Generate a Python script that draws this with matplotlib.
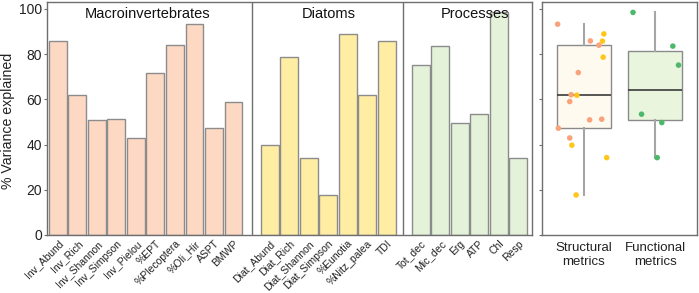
import matplotlib
matplotlib.use("Agg")
import matplotlib.pyplot as plt
import numpy as np

plt.rcParams["font.family"] = ["Liberation Sans", "DejaVu Sans"]

# ── data ──────────────────────────────────────────────────────────
macro_names = ["Inv_Abund", "Inv_Rich", "Inv_Shannon", "Inv_Simpson", "Inv_Pielou",
               "%EPT", "%Plecoptera", "%Oli_Hir", "ASPT", "BMWP"]
macro_vals = [85.8, 62.0, 50.9, 51.2, 42.9, 71.8, 83.9, 93.2, 47.2, 59.0]

diat_names = ["Diat_Abund", "Diat_Rich", "Diat_Shannon", "Diat_Simpson",
              "%Eunotia", "%Nitz_palea", "TDI"]
diat_vals = [39.7, 78.6, 34.2, 17.7, 88.9, 61.8, 85.7]

proc_names = ["Tot_dec", "Mic_dec", "Erg", "ATP", "Chl", "Resp"]
proc_vals = [75.1, 83.5, 49.7, 53.4, 98.4, 34.2]

group_titles = ["Macroinvertebrates", "Diatoms", "Processes"]
box_labels = ["Structural\nmetrics", "Functional\nmetrics"]
yticks = [0, 20, 40, 60, 80, 100]

# jitter used for the points in the right panel
macro_jit = [0.09, -0.18, 0.08, 0.25, -0.20, -0.08, 0.21, -0.37, -0.36, -0.20]
diat_jit = [-0.17, 0.27, 0.32, -0.11, 0.28, -0.10, 0.26]
proc_jit = [0.33, 0.25, 0.095, -0.19, -0.31, 0.03]

# ── style ─────────────────────────────────────────────────────────
C_MACRO, C_DIAT, C_PROC = "#FDD9C3", "#FFEDA3", "#E3F2D8"
P_MACRO, P_DIAT, P_PROC = "#F9A27B", "#FFC61A", "#4DB86A"
EDGE = "#8C8C8C"
FRAME = "#6E6E6E"

fig = plt.figure(figsize=(6.99, 2.93), dpi=100)
ax = fig.add_axes([47 / 699, 58 / 293, 485 / 699, 233 / 293])
ax2 = fig.add_axes([542 / 699, 58 / 293, 155 / 699, 233 / 293])

starts = [0.0, 10.85, 18.6]
groups = [(macro_names, macro_vals, C_MACRO),
          (diat_names, diat_vals, C_DIAT),
          (proc_names, proc_vals, C_PROC)]
all_x, all_lab = [], []
for s, (names, vals, col) in zip(starts, groups):
    xs = s + np.arange(len(vals))
    ax.bar(xs, vals, width=0.92, color=col, edgecolor=EDGE, linewidth=1.0)
    all_x.extend(xs)
    all_lab.extend(names)

for sep in [9.95, 17.7]:
    ax.axvline(sep, color=FRAME, lw=1.0)

title_x = [4.6, 13.9, 21.4]
for tx, t in zip(title_x, group_titles):
    ax.text(tx, 101, t, ha="center", va="top", fontsize=10.5, color="#111111")

ax.set_xlim(-0.56, 24.3)
ax.set_ylim(0, 103)
ax.set_yticks(yticks)
ax.set_xticks(all_x)
ax.set_xticklabels(all_lab, rotation=45, ha="right", va="top",
                   rotation_mode="anchor", fontsize=7.5, color="#222222")
ax.tick_params(axis="x", length=0, pad=2.5)
ax.tick_params(axis="y", length=2, width=0.8, color=FRAME, labelsize=10, pad=1.5,
               labelcolor="#222222")
ax.set_ylabel("% Variance explained", fontsize=10.2, color="#222222")
ax.yaxis.set_label_coords(-0.067, 0.49)
for sp in ax.spines.values():
    sp.set_color(FRAME)
    sp.set_linewidth(1.0)

# ── right panel: boxplots ─────────────────────────────────────────
structural = macro_vals + diat_vals
functional = proc_vals
bp = ax2.boxplot([structural, functional], positions=[1, 2], widths=0.75,
                 patch_artist=True, showfliers=False, whis=(0, 100),
                 medianprops=dict(color="#3A3A3A", lw=1.2),
                 whiskerprops=dict(color="#A6A6A6", lw=1.5),
                 capprops=dict(lw=0),
                 boxprops=dict(edgecolor="#8A8A8A", lw=1.0))
bp["boxes"][0].set_facecolor("#FEFAEF")
bp["boxes"][1].set_facecolor("#EAF5DE")

ax2.scatter(1 + np.array(macro_jit), macro_vals, s=16, color=P_MACRO,
            edgecolors="none", zorder=5)
ax2.scatter(1 + np.array(diat_jit), diat_vals, s=16, color=P_DIAT,
            edgecolors="none", zorder=5)
ax2.scatter(2 + np.array(proc_jit), proc_vals, s=16, color=P_PROC,
            edgecolors="none", zorder=5)

ax2.set_xlim(0.41, 2.59)
ax2.set_ylim(0, 103)
ax2.set_yticks(yticks)
ax2.set_yticklabels([])
ax2.set_xticks([1, 2])
ax2.set_xticklabels(box_labels, fontsize=9.5, color="#222222")
ax2.tick_params(axis="x", length=0, pad=5)
ax2.tick_params(axis="y", length=2, width=0.8, color=FRAME)
for sp in ax2.spines.values():
    sp.set_color(FRAME)
    sp.set_linewidth(1.0)

fig.savefig("out.png", dpi=100, facecolor="white")
